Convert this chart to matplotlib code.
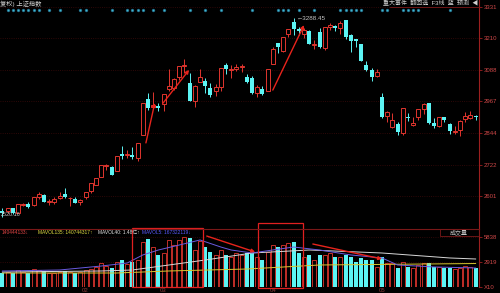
import numpy as np
import matplotlib.pyplot as plt
from matplotlib.patches import Rectangle

plt.rcParams['font.family'] = ['Liberation Sans', 'Noto Sans CJK SC', 'DejaVu Sans']

# ---- daily candles (Jan 10 .. May 30) ----
dates = ['01-10', '01-11', '01-14', '01-15', '01-16', '01-17', '01-18', '01-21', '01-22', '01-23',
         '01-24', '01-25', '01-28', '01-29', '01-30', '01-31',
         '02-01', '02-11', '02-12', '02-13', '02-14', '02-15', '02-18', '02-19', '02-20', '02-21',
         '02-22', '02-25', '02-26', '02-27', '02-28',
         '03-01', '03-04', '03-05', '03-06', '03-07', '03-08', '03-11', '03-12', '03-13', '03-14',
         '03-15', '03-18', '03-19', '03-20', '03-21', '03-22', '03-25', '03-26', '03-27', '03-28', '03-29',
         '04-01', '04-02', '04-03', '04-04', '04-08', '04-09', '04-10', '04-11', '04-12', '04-15',
         '04-16', '04-17', '04-18', '04-19', '04-22', '04-23', '04-24', '04-25', '04-26', '04-29', '04-30',
         '05-06', '05-07', '05-08', '05-09', '05-10', '05-13', '05-14', '05-15', '05-16', '05-17',
         '05-20', '05-21', '05-22', '05-23', '05-24', '05-27', '05-28', '05-29', '05-30']

opens = [2542, 2544, 2553, 2536, 2567, 2569, 2566, 2597, 2605, 2576, 2578, 2593, 2610, 2592, 2588, 2577,
         2597, 2619, 2645, 2676, 2715, 2714, 2698, 2765, 2760, 2760, 2748, 2838, 2975, 2946, 2949,
         2955, 3015, 3019, 3060, 3103, 3038, 2968, 3042, 3044, 3020, 3005, 3022, 3105, 3087, 3092, 3101,
         3062, 3057, 2998, 3013, 3008,
         3111, 3190, 3161, 3227, 3273, 3245, 3225, 3240, 3184, 3236, 3173, 3255, 3259, 3249, 3280, 3223,
         3208, 3188, 3108, 3086, 3064,
         2985, 2910, 2867, 2880, 2846, 2905, 2876, 2905, 2938, 2959, 2884, 2873, 2905, 2880, 2850, 2855,
         2898, 2903, 2908]
highs = [2553, 2555, 2554, 2571, 2574, 2578, 2598, 2618, 2607, 2591, 2596, 2618, 2630, 2596, 2598, 2591,
         2618, 2653, 2671, 2721, 2723, 2715, 2755, 2794, 2778, 2789, 2804, 2961, 3000, 3002, 2961,
         2996, 3090, 3055, 3103, 3129, 3075, 3028, 3091, 3055, 3037, 3034, 3096, 3113, 3106, 3111, 3110,
         3071, 3063, 3029, 3027, 3093,
         3176, 3193, 3217, 3247, 3288.45, 3252, 3248, 3242, 3202, 3251, 3253, 3270, 3260, 3275, 3282, 3225,
         3209, 3189, 3123, 3097, 3092,
         2997, 2931, 2922, 2887, 2939, 2920, 2905, 2938, 2959, 2960, 2903, 2905, 2906, 2882, 2871, 2893,
         2926, 2930, 2912]
lows = [2520.16, 2537, 2531, 2534, 2562, 2553, 2563, 2588, 2577, 2567, 2569, 2590, 2595, 2562, 2575, 2567,
        2590, 2612, 2642, 2676, 2703, 2682, 2697, 2744, 2746, 2742, 2736, 2838, 2935, 2940, 2928,
        2931, 3006, 3009, 3050, 3075, 2969, 2946, 3040, 3000, 2982, 2987, 3008, 3071, 3055, 3083, 3080,
        3039, 2995, 2985, 2990, 3007,
        3111, 3155, 3159, 3215, 3222, 3223, 3210, 3187, 3167, 3172, 3163, 3244, 3237, 3227, 3208, 3159,
        3176, 3123, 3085, 3044, 3062,
        2901, 2885, 2865, 2838, 2838, 2890, 2873, 2895, 2919, 2880, 2863, 2866, 2888, 2839, 2839, 2833,
        2886, 2900, 2895]
closes = [2535, 2554, 2536, 2570, 2570, 2559, 2596, 2610, 2579, 2581, 2591, 2601, 2597, 2594, 2575, 2584,
          2618, 2653, 2671, 2721, 2719, 2682, 2754, 2755, 2761, 2751, 2804, 2961, 2941, 2953, 2941,
          2994, 3027, 3054, 3102, 3106, 2969, 3026, 3060, 3026, 2990, 3021, 3096, 3090, 3090, 3101, 3104,
          3043, 2997, 3022, 2995, 3090,
          3170, 3176, 3216, 3246, 3245, 3239, 3241, 3189, 3188, 3177, 3253, 3263, 3250, 3270, 3215, 3198,
          3201, 3124, 3086, 3062, 3078,
          2906, 2926, 2893, 2850, 2939, 2903, 2883, 2938, 2955, 2882, 2871, 2905, 2896, 2852, 2853, 2892,
          2910, 2914, 2905]
volumes = [1650, 1750, 1600, 2000, 1750, 1650, 2050, 2000, 1850, 1600, 1650, 1800, 1900, 1750, 1600, 1700,
           1950, 2100, 2300, 2800, 2500, 2200, 2900, 3150, 2700, 2900, 3200, 5250, 5600, 4700, 3700,
           4000, 5500, 4900, 5500, 5838, 5750, 4300, 5400, 4670, 4090, 3740, 4300, 3740, 3500, 4000, 3700,
           3970, 3970, 3500, 3150, 4090,
           4900, 4670, 4900, 5140, 5250, 3970, 3500, 3740, 3150, 3740, 3740, 3970, 3500, 3500, 3740, 3500,
           2920, 3380, 3150, 3150, 2330,
           3500, 2800, 2800, 2220, 2920, 2340, 2220, 2570, 2800, 2800, 2340, 2340, 2220, 2220, 2100, 2220,
           2450, 2340, 2200]

# volume moving averages read at a few candles
mavol_long_idx = [0, 22, 32, 47, 61, 91]
mavol_long = [1635, 1635, 1870, 2100, 2570, 2740]
mavol_mid_idx = [0, 19, 25, 39, 48, 59, 73, 86, 91]
mavol_mid = [1750, 1870, 1985, 3150, 3970, 4320, 3970, 3390, 3270]
mavol5_idx = [0, 11, 19, 24, 27, 30, 34, 38, 42, 44, 48, 56, 61, 67, 73, 76, 83, 91]
mavol5 = [1870, 1985, 2450, 2800, 3740, 4320, 4900, 5490, 4670, 4320, 3970, 4670, 4320, 3740, 3390,
          2570, 2340, 2220]

price_ticks = [3331, 3210, 3088, 2967, 2844, 2722, 2601]
vol_ticks = [5838, 2919, 0]
vol_tick_labels = ['5838', '2919', 'X10']
month_idx = [16, 31, 52, 73]
month_labels = ['02', '03', '04', '05']
event_idx = [1, 2, 3, 4, 5, 6, 7, 9, 11, 15, 16, 21, 24, 25, 26, 27, 29, 31, 36, 39, 42, 48, 53, 54, 55,
             57, 60, 65, 66, 67, 68, 69, 73, 74, 77, 78, 79, 80, 86]

RED = '#e0352e'
CYAN = '#5cf4f4'
AXRED = '#9c1f1f'
LBL = '#d04848'

W, H = 500, 293
fig = plt.figure(figsize=(5, 2.93), dpi=100, facecolor='black')


def px_axes(x0, y0, x1, y1):
    a = fig.add_axes([x0 / W, 1 - y1 / H, (x1 - x0) / W, (y1 - y0) / H])
    a.set_facecolor('black')
    for s in ['top', 'left', 'bottom']:
        a.spines[s].set_visible(False)
    a.spines['right'].set_color(AXRED)
    a.spines['right'].set_linewidth(0.8)
    return a


x = np.arange(len(dates))
o = np.array(opens, float)
h = np.array(highs, float)
l = np.array(lows, float)
c = np.array(closes, float)
v = np.array(volumes, float)
up = c >= o
dn = ~up
cols = np.where(up, RED, CYAN)

# ---- price panel ----
ax = px_axes(0, 0, 479, 228)
ax.set_xlim(-0.46, 91.65)
ax.set_ylim(2477.3, 3358.0)
ax.vlines(x, l, h, colors=cols, lw=0.7, zorder=2)
ax.bar(x[up], np.maximum(c[up] - o[up], 1.5), bottom=o[up], width=0.74,
       facecolor='black', edgecolor=RED, lw=0.7, zorder=3)
ax.bar(x[dn], np.maximum(o[dn] - c[dn], 2.5), bottom=c[dn], width=0.74,
       color=CYAN, lw=0, zorder=3)
ax.yaxis.tick_right()
ax.set_yticks(price_ticks)
ax.set_yticklabels([str(t) for t in price_ticks])
ax.tick_params(axis='y', colors=AXRED, labelcolor=LBL, labelsize=4.3, length=2, width=0.6, pad=1.5)
ax.set_xticks([])
ax.grid(axis='y', color='#3c0a0a', ls=':', lw=0.6)

ax.scatter(event_idx, [0.956] * len(event_idx), transform=ax.get_xaxis_transform(),
           s=4, color='#3fb7cf', edgecolors='#1b5a78', linewidths=0.4, zorder=4)

ax.annotate('\u21903288.45', xy=(56.5, 3288.45), xytext=(56.6, 3288.45), color='#c8c8c8',
            fontsize=4.5, va='center', ha='left')

arr = dict(arrowstyle='-|>', color='#e8241c', lw=1.0, mutation_scale=5, shrinkA=0, shrinkB=0)
ax.annotate('', xy=(29.3, 2960), xytext=(27.6, 2806), arrowprops=arr, zorder=6)
ax.annotate('', xy=(35.9, 3088), xytext=(30.9, 2960), arrowprops=arr, zorder=6)
ax.annotate('', xy=(58.0, 3261), xytext=(52.0, 3010), arrowprops=arr, zorder=6)

# ---- volume panel ----
vax = px_axes(0, 229, 479, 287)
vax.set_xlim(-0.46, 91.65)
vax.set_ylim(0, 6772)
vax.bar(x[up], v[up], width=0.74, facecolor='black', edgecolor=RED, lw=0.6, zorder=2)
vax.bar(x[dn], v[dn], width=0.74, color=CYAN, lw=0, zorder=2)
vax.plot(mavol_long_idx, mavol_long, color='#d8c830', lw=0.7, zorder=3)
vax.plot(mavol_mid_idx, mavol_mid, color='#d8d8d8', lw=0.7, zorder=3)
vax.plot(mavol5_idx, mavol5, color='#6a5ae0', lw=0.7, zorder=3)
vax.yaxis.tick_right()
vax.set_yticks(vol_ticks)
vax.set_yticklabels(vol_tick_labels)
vax.tick_params(axis='y', colors=AXRED, labelcolor=LBL, labelsize=4.3, length=2, width=0.6, pad=1.5)
vax.set_xticks(month_idx)
vax.set_xticklabels(month_labels)
vax.tick_params(axis='x', colors='#7a2020', labelcolor='#8a3a3a', labelsize=4.3, length=0, pad=1)
vax.grid(axis='y', color='#3c0a0a', ls=':', lw=0.6)

vax.annotate('', xy=(48.6, 4090), xytext=(39.3, 5950), arrowprops=arr, zorder=6)
vax.annotate('', xy=(73.0, 3270), xytext=(59.7, 5020), arrowprops=arr, zorder=6)

# ---- overlay for frames and header text (pixel coordinates) ----
ov = fig.add_axes([0, 0, 1, 1], zorder=10)
ov.set_xlim(0, W)
ov.set_ylim(H, 0)
ov.axis('off')
ov.patch.set_alpha(0)

ov.plot([0, 479], [228.5, 228.5], color='#7a1818', lw=0.8)
ov.add_patch(Rectangle((132, 228), 71, 59, fill=False, ec='#e02020', lw=0.9))
ov.add_patch(Rectangle((258, 223), 45, 65, fill=False, ec='#e02020', lw=0.9))
ov.add_patch(Rectangle((440, 228.5), 39, 7, fill=False, ec='#7a1818', lw=0.6))
ov.text(459, 232, '成交量', color='#c8c8c8', fontsize=4.3, ha='center', va='center')

ov.text(0, 4, '复权) 上证指数', color='#d0d0d0', fontsize=4.5, ha='left', va='center')
ov.text(478, 3.5, '重大事件  翻回选  F3线  蓝  预测  \u25c0', color='#d0d0d0', fontsize=4.3,
        ha='right', va='center')
ov.plot([390, 479], [7, 7], color='#7a1818', lw=0.6)
ov.text(0.5, 214, '2520.16', color='#c8c8c8', fontsize=4.0, ha='left', va='center')

ov.text(2, 232, '140444133\u2193', color='#e04444', fontsize=3.5, ha='left', va='center')
ov.text(38, 232, 'MAVOL135: 140744317\u2191', color='#e0dc40', fontsize=3.5, ha='left', va='center')
ov.text(98, 232, 'MAVOL40: 1.48亿\u2191', color='#e0e0e0', fontsize=3.5, ha='left', va='center')
ov.text(142, 232, 'MAVOL5: 167322119\u2193', color='#5a5aff', fontsize=3.5, ha='left', va='center')

fig.savefig('out.png', dpi=100, facecolor='black')
